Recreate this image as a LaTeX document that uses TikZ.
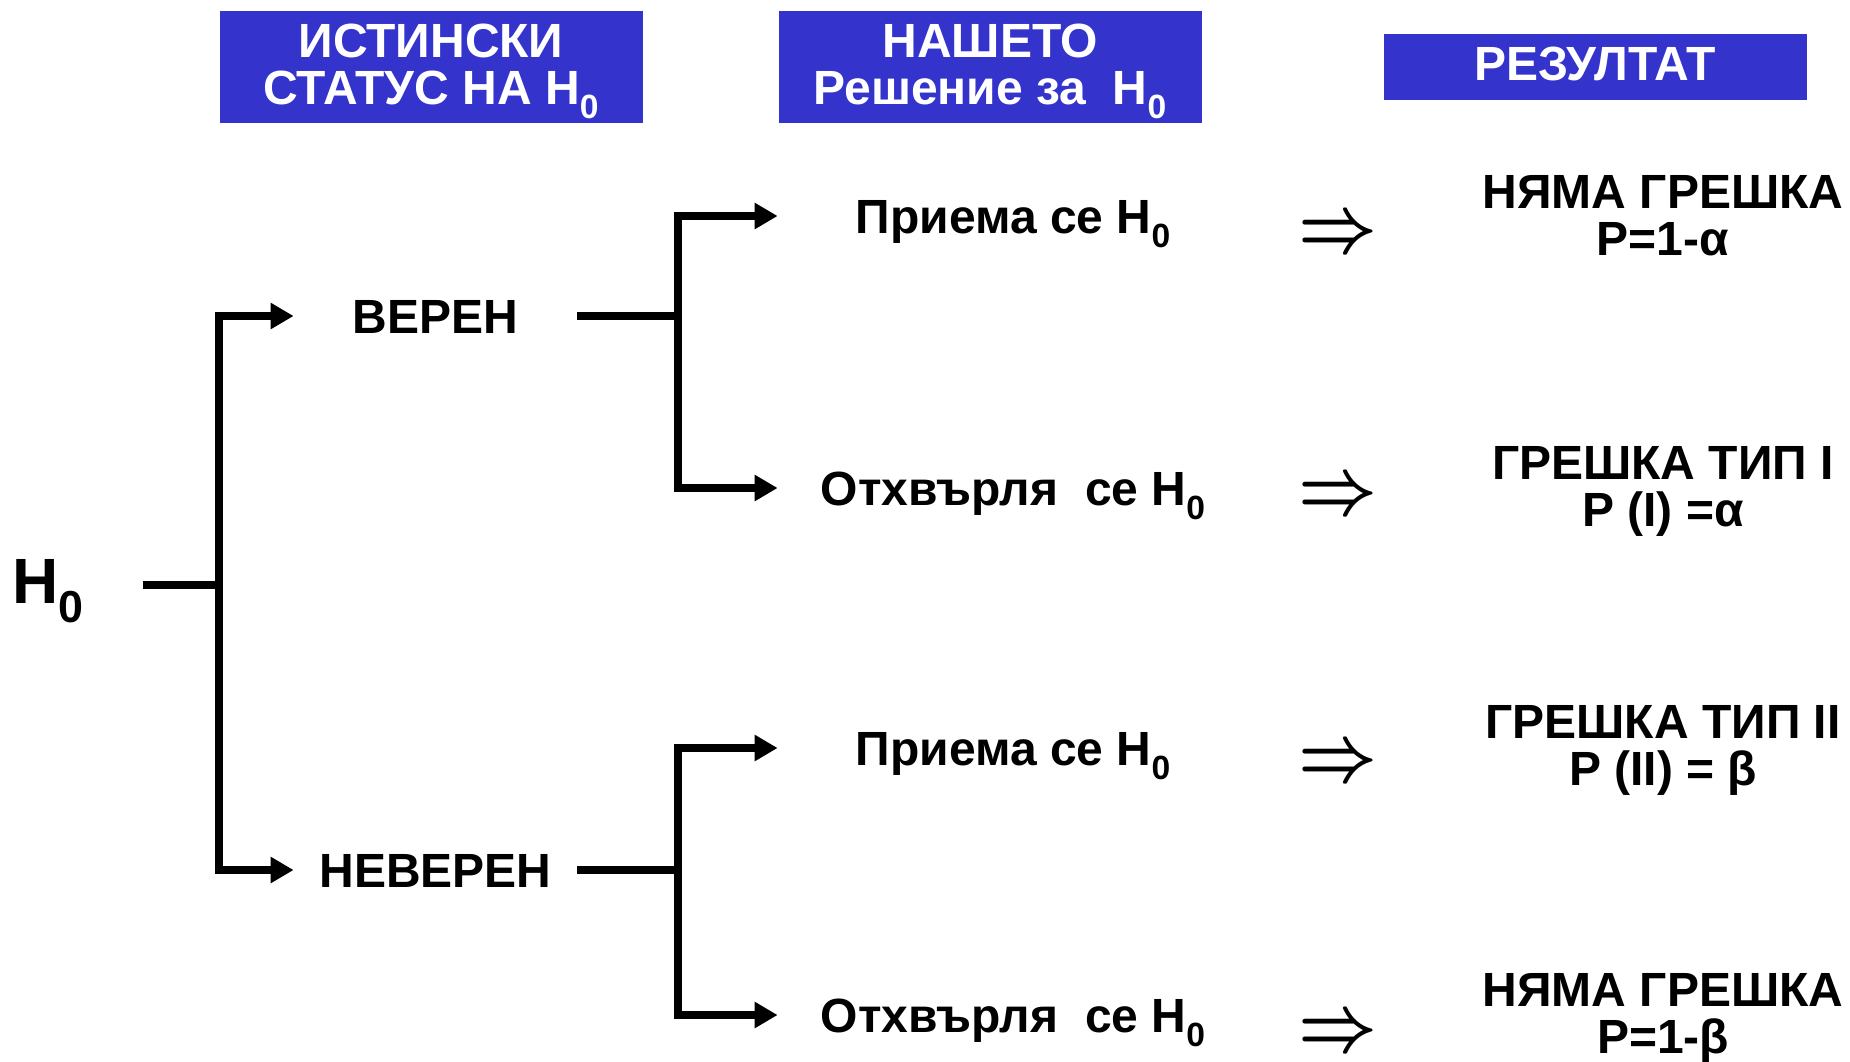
\documentclass[tikz,border=0pt]{standalone}
\usepackage{fontspec}
\setmainfont{Liberation Sans}
\usetikzlibrary{arrows.meta}
\definecolor{hblue}{RGB}{52,52,204}
\newcommand\zsub{\raisebox{-0.3em}{\scalebox{0.7}{0}}}
\newcommand\bigimp{\scalebox{1.38}[1.6]{$\Rightarrow$}}
\begin{document}
\begin{tikzpicture}[x=0.5pt,y=-0.5pt,
  ln/.style={line width=3.8pt, line join=miter},
  arr/.style={ln, -{Triangle[length=11.5pt,width=12.5pt]}},
  txt/.style={font=\fontsize{24}{23.5}\selectfont\bfseries, inner sep=0pt, text height=17.2pt, text depth=0pt},
  hdr/.style={fill=hblue, text=white, font=\fontsize{24}{23.5}\selectfont\bfseries, inner sep=0pt, align=center, minimum width=211.5pt, text depth=3pt},
  res/.style={font=\fontsize{24}{23.5}\selectfont\bfseries, inner sep=0pt, align=center, text depth=0pt, anchor=south},
  implies/.style={font=\fontsize{24.88}{25}\selectfont\mathversion{bold}, inner sep=0pt}
]
\useasboundingbox (0,0) rectangle (1850,1061);

% headers
\node[hdr, minimum height=56pt] (hd1) at (431,67) {ИСТИНСКИ\\СТАТУС НА H\zsub};
\node[hdr, minimum height=56pt] (hd2) at (990,67) {НАШЕТО\\Решение за~~H\zsub};
\node[hdr, minimum height=33pt] (hd3) at (1595,67) {РЕЗУЛТАТ};

% root
\node[font=\fontsize{32}{32}\selectfont\bfseries, inner sep=0pt, anchor=base west] (h0) at (12,603) {H\zsub};
\coordinate (s0) at (143,585);
\coordinate (j0) at (219,585);

% truth
\node[txt, minimum width=141.5pt] (ver) at (435.5,316) {ВЕРЕН};
\node[txt, minimum width=141.5pt] (nev) at (435.5,870) {НЕВЕРЕН};
\coordinate (j1) at (678,316);
\coordinate (j2) at (678,870);

% decisions
\node[txt, minimum width=235pt] (d1) at (1013,216) {Приема се H\zsub};
\node[txt, minimum width=235pt] (d2) at (1013,488) {Отхвърля~~се H\zsub};
\node[txt, minimum width=235pt] (d3) at (1013,748) {Приема се H\zsub};
\node[txt, minimum width=235pt] (d4) at (1013,1015) {Отхвърля~~се H\zsub};

% implies
\node[implies] (i1) at (1338,236) {\bigimp};
\node[implies] (i2) at (1338,498) {\bigimp};
\node[implies] (i3) at (1338,765) {\bigimp};
\node[implies] (i4) at (1338,1035) {\bigimp};

% results
\node[res] (r1) at (1663,256) {НЯМА ГРЕШКА\\P=1-α};
\node[res] (r2) at (1663,527) {ГРЕШКА ТИП I\\P (I) =α};
\node[res] (r3) at (1663,786) {ГРЕШКА ТИП II\\P (II) = β};
\node[res] (r4) at (1663,1054) {НЯМА ГРЕШКА\\P=1-β};

% connectors
\draw[ln] (s0) -- (j0);
\draw[arr] (j0) |- (ver.west);
\draw[arr] (j0) |- (nev.west);
\draw[ln] (ver.east) -- (j1);
\draw[arr] (j1) |- (d1.west);
\draw[arr] (j1) |- (d2.west);
\draw[ln] (nev.east) -- (j2);
\draw[arr] (j2) |- (d3.west);
\draw[arr] (j2) |- (d4.west);
\end{tikzpicture}
\end{document}
